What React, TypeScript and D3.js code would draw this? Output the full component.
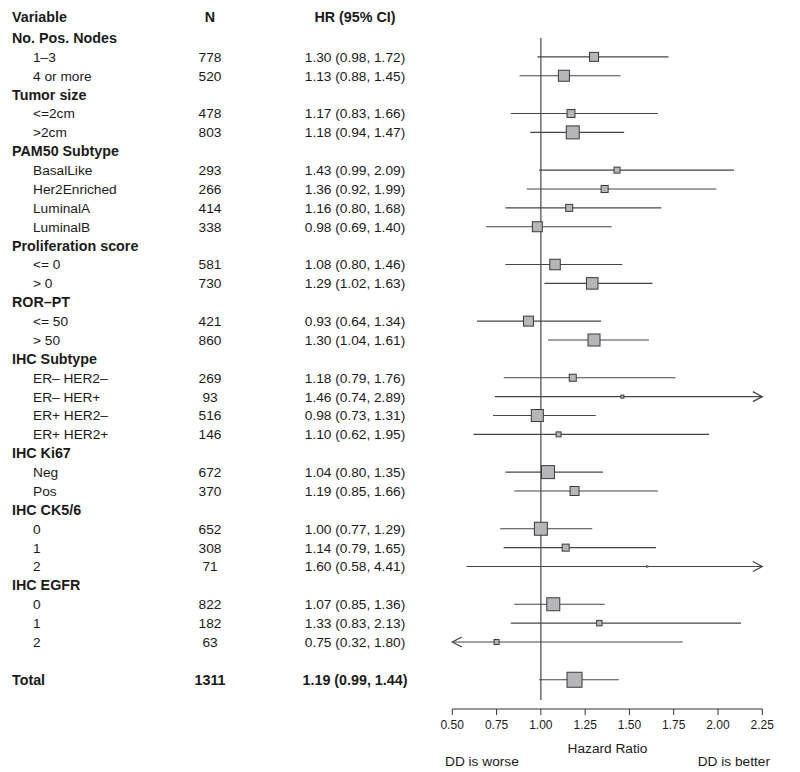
import React from "react";
import * as d3 from "d3";

// ---- data ----
const labels = [
  "No. Pos. Nodes", "1–3", "4 or more",
  "Tumor size", "<=2cm", ">2cm",
  "PAM50 Subtype", "BasalLike", "Her2Enriched", "LuminalA", "LuminalB",
  "Proliferation score", "<= 0", "> 0",
  "ROR–PT", "<= 50", "> 50",
  "IHC Subtype", "ER– HER2–", "ER– HER+", "ER+ HER2–", "ER+ HER2+",
  "IHC Ki67", "Neg", "Pos",
  "IHC CK5/6", "0", "1", "2",
  "IHC EGFR", "0", "1", "2",
];
const nValues: (number | null)[] = [
  null, 778, 520,
  null, 478, 803,
  null, 293, 266, 414, 338,
  null, 581, 730,
  null, 421, 860,
  null, 269, 93, 516, 146,
  null, 672, 370,
  null, 652, 308, 71,
  null, 822, 182, 63,
];
const hrValues: (number | null)[] = [
  null, 1.30, 1.13,
  null, 1.17, 1.18,
  null, 1.43, 1.36, 1.16, 0.98,
  null, 1.08, 1.29,
  null, 0.93, 1.30,
  null, 1.18, 1.46, 0.98, 1.10,
  null, 1.04, 1.19,
  null, 1.00, 1.14, 1.60,
  null, 1.07, 1.33, 0.75,
];
const lowerValues: (number | null)[] = [
  null, 0.98, 0.88,
  null, 0.83, 0.94,
  null, 0.99, 0.92, 0.80, 0.69,
  null, 0.80, 1.02,
  null, 0.64, 1.04,
  null, 0.79, 0.74, 0.73, 0.62,
  null, 0.80, 0.85,
  null, 0.77, 0.79, 0.58,
  null, 0.85, 0.83, 0.32,
];
const upperValues: (number | null)[] = [
  null, 1.72, 1.45,
  null, 1.66, 1.47,
  null, 2.09, 1.99, 1.68, 1.40,
  null, 1.46, 1.63,
  null, 1.34, 1.61,
  null, 1.76, 2.89, 1.31, 1.95,
  null, 1.35, 1.66,
  null, 1.29, 1.65, 4.41,
  null, 1.36, 2.13, 1.80,
];
// relative weight (box area) of each estimate
const weights: (number | null)[] = [
  null, 36, 54,
  null, 28, 75,
  null, 16, 22, 22, 44,
  null, 49, 59,
  null, 44, 64,
  null, 22, 4, 64, 11,
  null, 75, 36,
  null, 75, 22, 1,
  null, 75, 13, 11,
];
const totalLabel = "Total";
const totalN = 1311;
const totalHR = 1.19;
const totalLower = 0.99;
const totalUpper = 1.44;
const totalWeight = 100;
const tickValues = [0.5, 0.75, 1.0, 1.25, 1.5, 1.75, 2.0, 2.25];

export default function App() {
  const W = 800, H = 772;
  const x = d3.scaleLinear().domain([0.5, 2.25]).range([452.3, 762.3]);
  const y = d3.scaleLinear().domain([0, labels.length - 1]).range([38, 642]);
  const box = d3.scaleSqrt().domain([0, 100]).range([0, 15]);
  const fmt = d3.format(".2f");
  const font = "'Liberation Sans', Arial, Helvetica, sans-serif";
  const textColor = "#1a1a1a";
  const fs = 13.7;
  const fsBold = 14.3;
  const base = 4.9;
  const axisY = 709;
  const totalY = y(labels.length + 1);
  const colN = 210, colHR = 355;
  const lineColor = "#444";

  const hrText = (h: number, l: number, u: number) => `${fmt(h)} (${fmt(l)}, ${fmt(u)})`;

  const renderCI = (key: string, cy: number, h: number, l: number, u: number, w: number) => {
    const [dmin, dmax] = x.domain();
    const x1 = x(Math.max(l, dmin));
    const x2 = x(Math.min(u, dmax));
    const s = box(w);
    const parts: React.ReactNode[] = [
      <line key="l" x1={x1} x2={x2} y1={cy} y2={cy} stroke={lineColor} strokeWidth={1.2} />,
    ];
    if (u > dmax) {
      parts.push(
        <polyline key="ar" points={`${x2 - 9.5},${cy - 5} ${x2},${cy} ${x2 - 9.5},${cy + 5}`} fill="none" stroke={lineColor} strokeWidth={1.2} />
      );
    }
    if (l < dmin) {
      parts.push(
        <polyline key="al" points={`${x1 + 9.5},${cy - 5} ${x1},${cy} ${x1 + 9.5},${cy + 5}`} fill="none" stroke={lineColor} strokeWidth={1.2} />
      );
    }
    parts.push(
      <rect key="b" x={x(h) - s / 2} y={cy - s / 2} width={s} height={s} fill="#b6b6b8" stroke="#3a3a3a" strokeWidth={s < 3 ? 0.6 : 1} />
    );
    return <g key={key}>{parts}</g>;
  };

  return (
    <svg width={W} height={H} style={{ position: "absolute", left: 0, top: 0, background: "#fff" }} fontFamily={font}>
      {/* header */}
      <g fontWeight="bold" fontSize={fsBold} fill={textColor}>
        <text x={12} y={17 + base}>Variable</text>
        <text x={colN} y={17 + base} textAnchor="middle">N</text>
        <text x={colHR} y={17 + base} textAnchor="middle">HR (95% CI)</text>
      </g>

      {/* reference line */}
      <line x1={x(1)} x2={x(1)} y1={38} y2={700} stroke="#555" strokeWidth={1.3} />

      {labels.map((lab, i) => {
        const cy = y(i);
        const isGroup = nValues[i] === null;
        return (
          <g key={i}>
            <text x={isGroup ? 12 : 33} y={cy + base} fontSize={isGroup ? fsBold : fs} fill={textColor} fontWeight={isGroup ? "bold" : "normal"}>
              {lab}
            </text>
            {!isGroup && (
              <>
                <text x={colN} y={cy + base} fontSize={fs} fill={textColor} textAnchor="middle">{nValues[i]}</text>
                <text x={colHR} y={cy + base} fontSize={fs} fill={textColor} textAnchor="middle">
                  {hrText(hrValues[i] as number, lowerValues[i] as number, upperValues[i] as number)}
                </text>
              </>
            )}
            {!isGroup && renderCI("ci" + i, cy, hrValues[i] as number, lowerValues[i] as number, upperValues[i] as number, weights[i] as number)}
          </g>
        );
      })}

      {/* total */}
      <g fontWeight="bold" fontSize={fsBold} fill={textColor}>
        <text x={12} y={totalY + base}>{totalLabel}</text>
        <text x={colN} y={totalY + base} textAnchor="middle">{totalN}</text>
        <text x={colHR} y={totalY + base} textAnchor="middle">{hrText(totalHR, totalLower, totalUpper)}</text>
      </g>
      {renderCI("total", totalY, totalHR, totalLower, totalUpper, totalWeight)}

      {/* axis */}
      <line x1={x(0.5)} x2={x(2.25)} y1={axisY} y2={axisY} stroke="#333" strokeWidth={1} />
      {tickValues.map((t) => (
        <g key={t}>
          <line x1={x(t)} x2={x(t)} y1={axisY} y2={axisY + 6} stroke="#333" strokeWidth={1} />
          <text x={x(t)} y={axisY + 20} textAnchor="middle" fontSize={12} fill={textColor}>{fmt(t)}</text>
        </g>
      ))}
      <text x={607.5} y={753} textAnchor="middle" fontSize={fs} fill={textColor}>Hazard Ratio</text>
      <text x={445} y={766} fontSize={fs} fill={textColor}>DD is worse</text>
      <text x={770} y={766} textAnchor="end" fontSize={fs} fill={textColor}>DD is better</text>
    </svg>
  );
}
